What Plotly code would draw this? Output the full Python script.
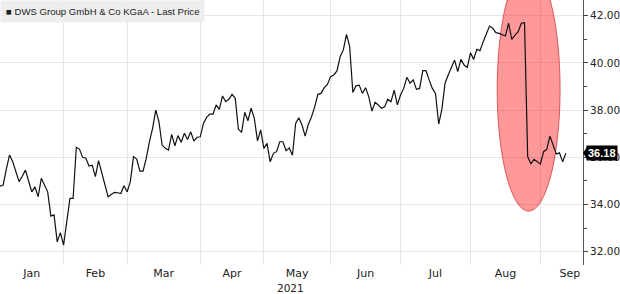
import pandas as pd
import plotly.graph_objects as go

# ---- data -------------------------------------------------------------
series_name = "DWS Group GmbH & Co KGaA - Last Price"
trading_days = pd.bdate_range("2021-01-04", "2021-09-13", freq="C",
                              holidays=["2021-04-02", "2021-04-05"])
prices = [
    34.78, 34.83, 35.50, 36.10, 35.81, 35.40, 34.97, 35.20, 35.46, 35.00,
    34.54, 34.75, 34.33, 35.11, 34.85, 34.54, 33.51, 33.56, 32.42, 32.81,
    32.28, 33.30, 34.26, 34.26, 36.42, 36.35, 36.00, 35.96, 35.63, 35.67,
    35.18, 35.86, 35.32, 34.90, 34.33, 34.43, 34.52, 34.50, 34.47, 34.80,
    34.54, 34.97, 36.03, 35.93, 35.42, 35.42, 35.96, 36.66, 37.23, 38.00,
    37.51, 36.52, 36.38, 36.31, 36.97, 36.49, 36.92, 36.64, 37.02, 36.76,
    37.08, 36.69, 36.85, 36.87, 37.44, 37.69, 37.83, 37.83, 38.22, 38.03,
    38.60, 38.36, 38.46, 38.67, 38.50, 37.19, 37.06, 37.91, 37.55, 38.08,
    37.65, 36.70, 37.16, 36.38, 36.59, 35.81, 36.17, 36.24, 36.66, 36.66,
    36.28, 36.40, 36.09, 37.44, 37.68, 37.37, 36.90, 37.40, 37.72, 38.14,
    38.67, 38.71, 38.95, 39.09, 39.42, 39.49, 39.66, 40.26, 40.55, 41.21,
    40.69, 38.75, 39.03, 39.06, 38.71, 38.95, 38.57, 37.96, 38.33, 38.22,
    38.08, 38.14, 38.46, 38.36, 38.85, 38.22, 38.64, 38.92, 39.39, 39.14,
    39.28, 38.88, 38.92, 39.67, 39.67, 39.28, 38.92, 38.71, 37.41, 38.03,
    39.14, 39.49, 39.80, 40.12, 39.63, 40.15, 39.91, 39.81, 40.43, 40.15,
    40.58, 40.52, 40.90, 41.22, 41.56, 41.47, 41.28, 41.25, 41.20, 41.14,
    41.68, 41.00, 41.18, 41.32, 41.68, 41.70, 36.03, 35.72, 35.92, 35.81,
    35.72, 36.24, 36.34, 36.90, 36.52, 36.14, 36.19, 35.81, 36.18,
]
y_tick_values = [32, 34, 36, 38, 40, 42]
y_minor_values = [33, 35, 37, 39, 41]
year_label = "2021"
highlight_days = (156.4, 176.2)      # index span of the highlighted drop
highlight_prices = (33.72, 44.06)

# ---- derived axis helpers -------------------------------------------
n = min(len(prices), len(trading_days))
idx = list(range(n))
months = [d.month for d in trading_days[:n]]
month_starts = [i for i in idx if i == 0 or months[i] != months[i - 1]]
month_labels = [trading_days[i].strftime("%b") for i in month_starts]

X_MAX = 183.4
label_pos = []
for k, s in enumerate(month_starts):
    e = month_starts[k + 1] if k + 1 < len(month_starts) else X_MAX + 5.2
    label_pos.append((s + e) / 2)

FONT = "DejaVu Sans"
fig = go.Figure()

fig.add_shape(type="circle", xref="x", yref="y",
              x0=highlight_days[0], x1=highlight_days[1],
              y0=highlight_prices[0], y1=highlight_prices[1],
              fillcolor="rgba(255,0,0,0.4)",
              line=dict(color="rgba(210,40,40,0.7)", width=1),
              layer="between")

fig.add_trace(go.Scatter(x=idx, y=prices[:n], mode="lines",
                         line=dict(color="#111111", width=1.2),
                         showlegend=False, hoverinfo="skip"))

fig.update_layout(
    width=620, height=294,
    margin=dict(l=0, r=35, t=0, b=29),
    paper_bgcolor="white", plot_bgcolor="white",
    font=dict(family=FONT, size=11, color="#222222"),
)

fig.update_xaxes(
    range=[0, X_MAX],
    tickmode="array", tickvals=label_pos, ticktext=month_labels,
    showgrid=False, ticks="", zeroline=False, showline=False,
    tickfont=dict(family=FONT, size=11, color="#222222"),
    minor=dict(tickmode="array", tickvals=month_starts, showgrid=True,
               gridcolor="#e6e6e6", gridwidth=1, ticks=""),
)

fig.update_yaxes(
    side="right", range=[31.44, 42.665],
    tickmode="array", tickvals=y_tick_values,
    ticktext=[f"{v:.2f}" for v in y_tick_values],
    showgrid=True, gridcolor="#e6e6e6", gridwidth=1,
    ticks="outside", ticklen=4, tickwidth=1, tickcolor="#444444",
    showline=True, linecolor="#555555", linewidth=1,
    zeroline=False,
    tickfont=dict(family=FONT, size=10.5, color="#222222"),
    minor=dict(tickmode="array", tickvals=y_minor_values, ticks="outside",
               ticklen=3, tickcolor="#444444", showgrid=False),
)

# year label under May
may_k = month_labels.index("May")
fig.add_annotation(x=label_pos[may_k] - 2, y=0, xref="x", yref="paper",
                   yshift=-15, text=year_label, showarrow=False,
                   font=dict(family=FONT, size=10.5, color="#222222"),
                   yanchor="top")

# legend box
fig.add_annotation(x=0, y=1, xref="paper", yref="paper", xanchor="left",
                   yanchor="top", text="■ " + series_name, showarrow=False,
                   bgcolor="#eeeeee", borderpad=5,
                   font=dict(family="Liberation Sans", size=9.6,
                             color="#222222"))

# last price tag
last = prices[n - 1]
fig.add_annotation(x=1, y=last, xref="paper", yref="y", xanchor="left",
                   xshift=3, text=f"<b>{last:.2f}</b>", showarrow=False,
                   bgcolor="black", borderpad=1,
                   font=dict(family="Liberation Sans", size=11,
                             color="white"))
fig.add_shape(type="path", xref="paper", yref="y", xsizemode="pixel",
              ysizemode="pixel", xanchor=1, yanchor=last,
              path="M 0 0 L 4 6 L 4 -6 Z", fillcolor="black",
              line=dict(width=0))

fig.write_html("out.html")
